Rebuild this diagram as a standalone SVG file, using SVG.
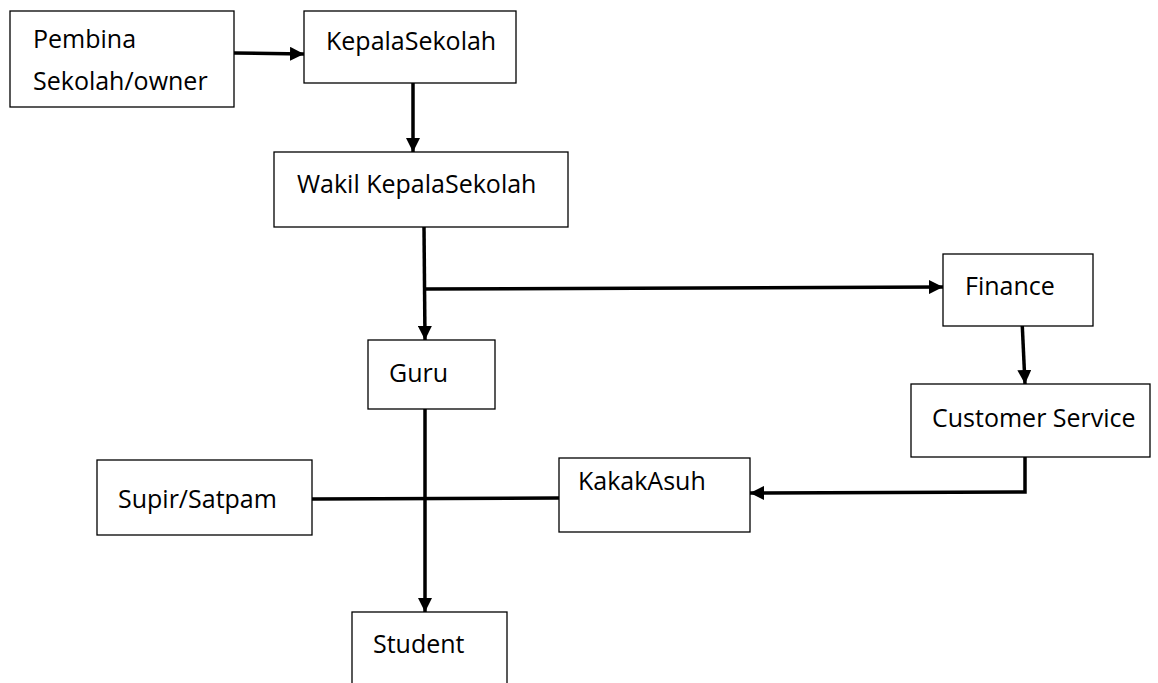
<svg xmlns="http://www.w3.org/2000/svg" width="1158" height="683" viewBox="0 0 1158 683">
<defs>
<marker id="ah" viewBox="0 0 10 10" refX="10" refY="5" markerWidth="4" markerHeight="4" markerUnits="strokeWidth" orient="auto">
<path d="M0,0 L10,5 L0,10 Z" fill="#000"/>
</marker>
<style>
.box{fill:#fff;stroke:#000;stroke-width:1.3}
.t{font-family:"Open Sans","Noto Sans",sans-serif;font-size:25px;fill:#000}
.c{fill:none;stroke:#000;stroke-width:3.5}
.a{marker-end:url(#ah)}
</style>
</defs>
<rect width="1158" height="683" fill="#fff"/>
<g id="connectors">
<line class="c a" x1="234" y1="53" x2="304" y2="54"/>
<line class="c a" x1="413" y1="83" x2="413" y2="152"/>
<line class="c a" x1="424" y1="227" x2="425" y2="340"/>
<line class="c a" x1="424" y1="289" x2="943" y2="287"/>
<line class="c a" x1="1022" y1="320" x2="1025" y2="384"/>
<polyline class="c a" points="1025,457 1025,492 750,493"/>
<line class="c" x1="312" y1="499" x2="559" y2="498"/>
<line class="c a" x1="425" y1="409" x2="425" y2="612"/>
</g>
<g id="pembina"><rect class="box" x="10" y="11" width="224" height="96"/><text class="t" x="33" y="48">Pembina</text><text class="t" x="33" y="90">Sekolah/owner</text></g>
<g id="kepala"><rect class="box" x="304" y="11" width="212" height="72"/><text class="t" x="326" y="50">KepalaSekolah</text></g>
<g id="wakil"><rect class="box" x="274" y="152" width="294" height="75"/><text class="t" x="297" y="193">Wakil KepalaSekolah</text></g>
<g id="finance"><rect class="box" x="943" y="254" width="150" height="72"/><text class="t" x="965" y="295">Finance</text></g>
<g id="guru"><rect class="box" x="368" y="340" width="127" height="69"/><text class="t" x="389" y="382">Guru</text></g>
<g id="cs"><rect class="box" x="911" y="384" width="239" height="73"/><text class="t" x="932" y="427">Customer Service</text></g>
<g id="supir"><rect class="box" x="97" y="460" width="215" height="75"/><text class="t" x="118" y="508">Supir/Satpam</text></g>
<g id="kakak"><rect class="box" x="559" y="458" width="191" height="74"/><text class="t" x="578" y="490">KakakAsuh</text></g>
<g id="student"><rect class="box" x="352" y="612" width="155" height="90"/><text class="t" x="373" y="653">Student</text></g>
</svg>
